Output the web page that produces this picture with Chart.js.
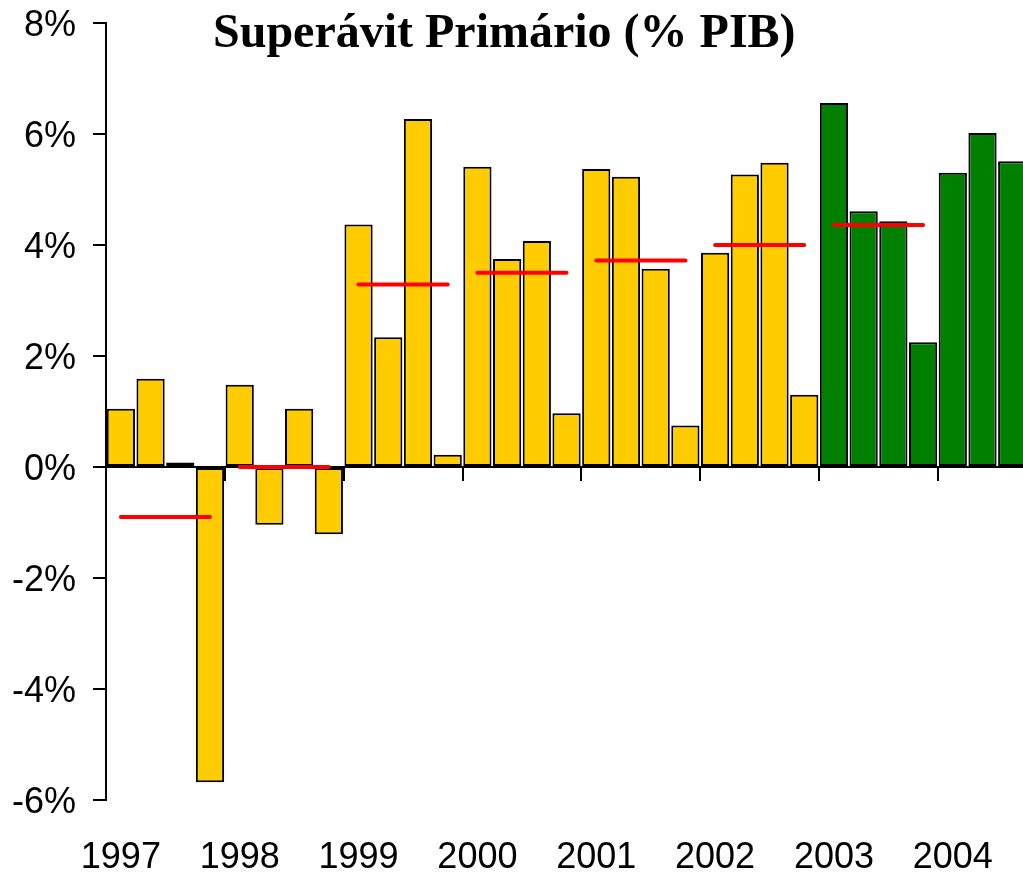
<!DOCTYPE html>
<html>
<head>
<meta charset="utf-8">
<script src="https://cdn.jsdelivr.net/npm/chart.js@4.4.1/dist/chart.umd.min.js"></script>
<style>
  html, body { margin: 0; padding: 0; overflow: hidden; background: #fff; }
  #wrap { position: relative; width: 1078px; height: 876px; }
  #chart { display: block; }
  #title {
    position: absolute; left: 213px; top: 7px;
    font: bold 48px/48px "Liberation Serif", "Times New Roman", serif;
    white-space: nowrap; color: #000;
  }
</style>
</head>
<body>
<div id="wrap">
  <canvas id="chart" width="1078" height="876"></canvas>
  <div id="title">Superávit Primário (% PIB)</div>
</div>
<script>
const years = ['1997', '1998', '1999', '2000', '2001', '2002', '2003', '2004'];
const quarterNames = ['T1', 'T2', 'T3', 'T4'];

// quarterly primary surplus, % of GDP (1997 T1 .. 2004 T3)
const superavit = [
  1.05, 1.59, 0.08, -5.68,
  1.48, -1.04, 1.05, -1.21,
  4.37, 2.34, 6.27, 0.22,
  5.41, 3.75, 4.07, 0.97,
  5.37, 5.23, 3.57, 0.75,
  3.86, 5.27, 5.48, 1.30,
  6.56, 4.61, 4.43, 2.25,
  5.30, 6.02, 5.51
];

// yearly average (red lines), 1997 .. 2003
const annualAvg = [-0.90, 0.00, 3.29, 3.50, 3.72, 4.00, 4.36];

const yTicks = [-6, -4, -2, 0, 2, 4, 6, 8];
const greenFrom = '2003';

const yellow = '#ffcc00';
const green = '#008000';

const quarters = [];
years.forEach(y => quarterNames.forEach(q => quarters.push(y + ' ' + q)));

const barColors = superavit.map((v, i) => quarters[i].slice(0, 4) >= greenFrom ? green : yellow);

const avgDatasets = annualAvg.map((avg, k) => ({
    type: 'line',
    data: quarters.map((q, i) => Math.floor(i / 4) === k ? avg : null),
    borderColor: '#ff0000',
    borderWidth: 4,
    borderCapStyle: 'round',
    pointRadius: 0,
    spanGaps: false,
    order: 1
}));

const axisFont = { family: "'Liberation Sans', Arial, sans-serif", size: 36 };

const chart = new Chart(document.getElementById('chart'), {
    type: 'bar',
    data: {
        labels: quarters,
        datasets: [{
            type: 'bar',
            data: superavit,
            backgroundColor: barColors,
            borderColor: '#000',
            borderWidth: 2,
            borderSkipped: false,
            barPercentage: 0.95,
            categoryPercentage: 1,
            order: 2
        }].concat(avgDatasets)
    },
    options: {
        responsive: false,
        animation: false,
        layout: { padding: { top: 23, right: 4, bottom: 0, left: 0 } },
        plugins: {
            legend: { display: false },
            tooltip: { enabled: false }
        },
        scales: {
            x: {
                type: 'category',
                offset: true,
                grid: { display: false, drawTicks: false },
                border: { display: false },
                ticks: {
                    autoSkip: false,
                    maxRotation: 0,
                    minRotation: 0,
                    padding: 36,
                    color: '#000',
                    font: axisFont,
                    callback: (v, i) => i % 4 === 0 ? quarters[i].slice(0, 4) : ''
                },
                afterFit: s => { s.height = 76; }
            },
            x2: {
                type: 'category',
                labels: quarters,
                offset: true,
                position: { y: 0 },
                grid: {
                    offset: true,
                    drawOnChartArea: false,
                    tickLength: 13,
                    lineWidth: 2,
                    color: c => c.index % 4 === 0 ? '#000' : 'rgba(0,0,0,0)'
                },
                border: { display: true, color: '#000', width: 2 },
                ticks: { display: false, autoSkip: false }
            },
            y: {
                min: yTicks[0],
                max: yTicks[yTicks.length - 1],
                ticks: {
                    stepSize: 2,
                    padding: 17,
                    labelOffset: 3,
                    color: '#000',
                    font: axisFont,
                    callback: v => v + '%'
                },
                grid: { drawOnChartArea: false, tickLength: 13, lineWidth: 2, color: '#000' },
                border: { color: '#000', width: 2 },
                afterFit: s => {
                    s.width = 106;
                    s.paddingTop = 0;
                    s.paddingBottom = 0;
                }
            }
        }
    }
});
</script>
</body>
</html>
